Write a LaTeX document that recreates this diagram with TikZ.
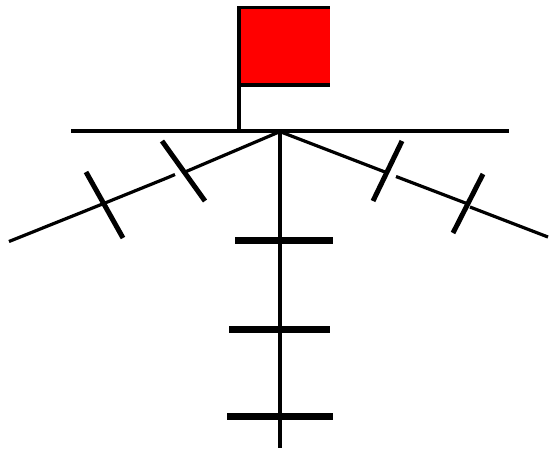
\documentclass[tikz,border=0pt]{standalone}
\tikzset{
 poleline/.style={line width=4pt,black},
 spoke/.style={line width=3.2pt,black},
 tick/.style={line width=5pt,black},
 bar/.style={line width=7pt,black}}
\begin{document}
\begin{tikzpicture}[x=1pt,y=-1pt]
\useasboundingbox (0,0) rectangle (551,448);
\fill[red] (238,7) rectangle (330,85);
\draw[poleline] (239,131) -- (239,6);
\draw[poleline,line width=3pt] (237,7.5) -- (330,7.5);
\draw[poleline] (237,85) -- (330,85);
\draw[poleline] (71,131) -- (509,131);
\draw[poleline] (280,131) -- (280,448);
\draw[bar] (235,240) -- (333,240);
\draw[bar] (229,329.5) -- (330,329.5);
\draw[bar] (227,416.5) -- (333,416.5);
\draw[spoke] (279,132) -- (185,172);
\draw[spoke] (175,174.5) -- (168,177.5) -- (105,203) -- (9,241.5);
\draw[spoke] (281,132) -- (385,172);
\draw[spoke] (396,176.5) -- (468,204);
\draw[spoke] (470,207) -- (548,237);
\draw[tick] (162,141) -- (205,201);
\draw[tick] (86,172) -- (123,238);
\draw[tick] (402,141) -- (373,201);
\draw[tick] (483,174) -- (453,233);
\end{tikzpicture}
\end{document}
